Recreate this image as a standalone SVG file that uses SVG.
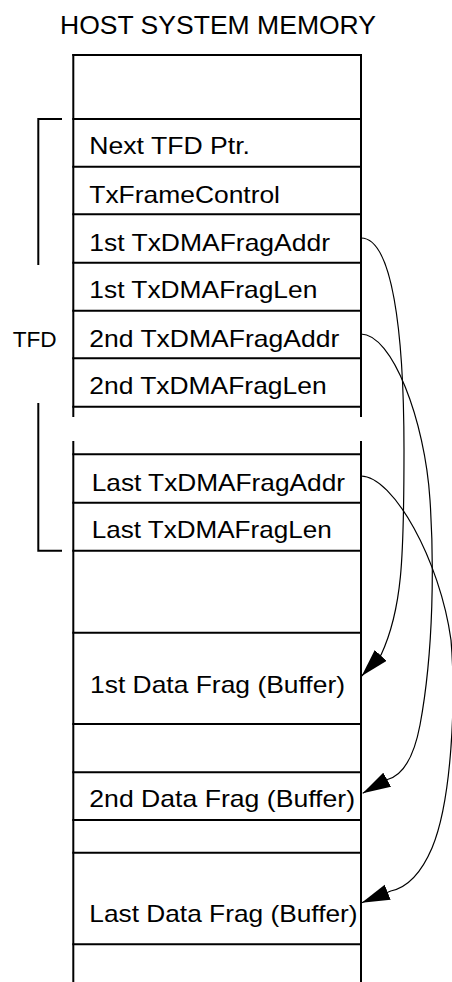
<svg xmlns="http://www.w3.org/2000/svg" width="452" height="982" viewBox="0 0 452 982">
<style>
.f{stroke:#000;stroke-width:2;fill:none}
.t{font-family:"Liberation Sans",Arial,sans-serif;font-size:24px;fill:#000}
.c{stroke:#000;stroke-width:1.2;fill:none;marker-end:url(#ah)}
</style>
<defs>
<marker id="ah" markerUnits="userSpaceOnUse" markerWidth="30" markerHeight="18" refX="28" refY="8" orient="auto">
<path d="M0,0 L28,8 L0,16 z" fill="#000"/>
</marker>
</defs>
<rect width="452" height="982" fill="#fff"/>
<g id="title"><text class="t" x="60" y="34" style="font-size:26.5px" textLength="316" lengthAdjust="spacingAndGlyphs">HOST SYSTEM MEMORY</text></g>
<g id="frame" class="f">
<path d="M73.3,54 V417 M361,54 V417 M73.3,441 V982 M361,441 V982"/>
<path d="M72.3,55 H362 M72.3,119 H362 M72.3,166.7 H362 M72.3,214.3 H362 M72.3,262.7 H362 M72.3,310.7 H362 M72.3,358.3 H362 M72.3,406.7 H362 M72.3,454.3 H362 M72.3,502.7 H362 M72.3,550.7 H362 M72.3,632.7 H362 M72.3,724 H362 M72.3,772.3 H362 M72.3,820 H362 M72.3,852.7 H362 M72.3,944.3 H362"/>
</g>
<g id="tfd-bracket">
<path class="f" d="M62,119 H38.3 V265 M38.3,403 V550.7 H62"/>
<text class="t" x="12.7" y="346.7" style="font-size:22.5px" textLength="44" lengthAdjust="spacingAndGlyphs">TFD</text>
</g>
<g id="next-tfd-ptr"><text class="t" x="89.3" y="154.3" textLength="160.7" lengthAdjust="spacingAndGlyphs">Next TFD Ptr.</text></g>
<g id="txframecontrol"><text class="t" x="89.3" y="202.7" textLength="190.7" lengthAdjust="spacingAndGlyphs">TxFrameControl</text></g>
<g id="frag1-addr"><text class="t" x="89.3" y="250.7" textLength="240.7" lengthAdjust="spacingAndGlyphs">1st TxDMAFragAddr</text></g>
<g id="frag1-len"><text class="t" x="89.3" y="298.3" textLength="228" lengthAdjust="spacingAndGlyphs">1st TxDMAFragLen</text></g>
<g id="frag2-addr"><text class="t" x="89.3" y="346.7" textLength="250" lengthAdjust="spacingAndGlyphs">2nd TxDMAFragAddr</text></g>
<g id="frag2-len"><text class="t" x="89.3" y="394.3" textLength="237.3" lengthAdjust="spacingAndGlyphs">2nd TxDMAFragLen</text></g>
<g id="fraglast-addr"><text class="t" x="91.7" y="490.7" textLength="253.3" lengthAdjust="spacingAndGlyphs">Last TxDMAFragAddr</text></g>
<g id="fraglast-len"><text class="t" x="91.7" y="538.3" textLength="240" lengthAdjust="spacingAndGlyphs">Last TxDMAFragLen</text></g>
<g id="data-frag1"><text class="t" x="90" y="692.7" textLength="255" lengthAdjust="spacingAndGlyphs">1st Data Frag (Buffer)</text></g>
<g id="data-frag2"><text class="t" x="89.3" y="807.3" textLength="265.7" lengthAdjust="spacingAndGlyphs">2nd Data Frag (Buffer)</text></g>
<g id="data-fraglast"><text class="t" x="89.3" y="921.7" textLength="268.3" lengthAdjust="spacingAndGlyphs">Last Data Frag (Buffer)</text></g>
<g id="connectors">
<path class="c" d="M361,238 C392,238 404,330 404,450 C404,560 402,610 381,655 L361.7,676"/>
<path class="c" d="M361,334 C392,334 425,420 430,500 C434,560 434,650 420,725 C413,762 400,776 387.5,779.5 L362.7,793.3"/>
<path class="c" d="M361,476 C393,476 440,560 451,640 C456,700 452,800 432,848 C420,876 405,888 390.8,891 L361.7,902.7"/>
</g>
</svg>
